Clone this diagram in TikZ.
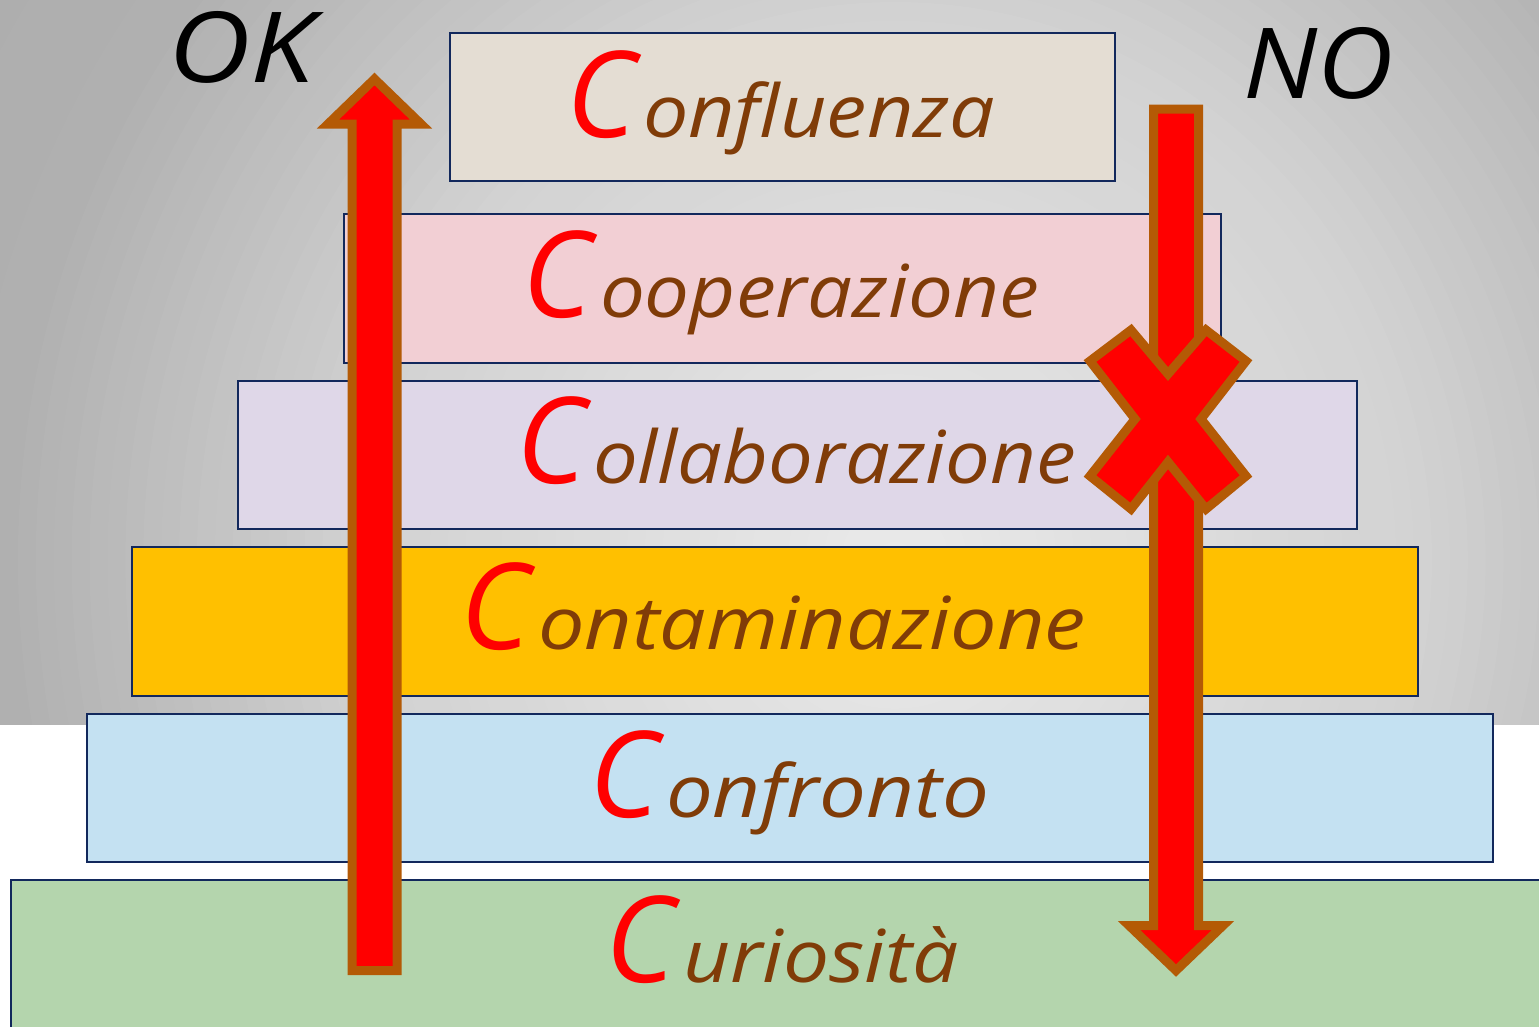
\documentclass[tikz,border=0pt]{standalone}
\usepackage{fontspec}
\usepackage{graphicx}
\newfontfamily\hand{Open Sans}
\definecolor{cred}{RGB}{255,0,0}
\definecolor{cbrown}{RGB}{128,60,8}
\definecolor{aedge}{RGB}{180,90,5}
\definecolor{bline}{RGB}{18,40,92}
\definecolor{f1}{RGB}{228,221,211}
\definecolor{f2}{RGB}{242,207,212}
\definecolor{f3}{RGB}{223,215,232}
\definecolor{f4}{RGB}{255,192,0}
\definecolor{f5}{RGB}{196,225,242}
\definecolor{f6}{RGB}{180,213,173}
\tikzset{
  layer/.style={draw=bline, line width=2pt, inner sep=0pt, outer sep=0pt},
  capc/.style={inner sep=0pt, outer sep=0pt, anchor=base west, text=cred, font=\hand\itshape\fontsize{120}{120}\selectfont},
  rest/.style={inner sep=0pt, outer sep=0pt, anchor=base west, text=cbrown, font=\hand\itshape\fontsize{73}{73}\selectfont},
  verdict/.style={inner sep=0pt, outer sep=0pt, anchor=base west, text=black, font=\hand\itshape\fontsize{98}{98}\selectfont},
  blockarrow/.style={fill=cred, draw=aedge, line width=9pt, line join=miter, miter limit=10}
}
\begin{document}
\begin{tikzpicture}[x=1pt,y=-1pt]
\useasboundingbox (0,0) rectangle (1539,1026);
\fill[white] (0,0) rectangle (1539,1026);
\begin{scope}
\clip (0,0) rectangle (1539,724);
\foreach \i in {75,...,1}{
  \pgfmathsetmacro\s{\i/50}
  \pgfmathsetmacro\g{\s<0.6 ? 234-40*\s : (\s<1 ? 210-85*(\s-0.6) : 176-10*(\s-1))}
  \pgfmathsetmacro\gg{\g/255}
  \definecolor{tmpg}{gray}{\gg}
  \fill[tmpg] (895,560) ellipse [x radius=895*\s, y radius=930*\s];
}
\end{scope}
% layers
\node[layer, fill=f1, minimum width=665pt, minimum height=148pt] (b1) at (782.5,107) {};
\node[layer, fill=f2, minimum width=877pt, minimum height=149pt] (b2) at (782.5,288.5) {};
\node[layer, fill=f3, minimum width=1119pt, minimum height=148pt] (b3) at (797.5,455) {};
\node[layer, fill=f4, minimum width=1286pt, minimum height=149pt] (b4) at (775,621.5) {};
\node[layer, fill=f5, minimum width=1406pt, minimum height=148pt] (b5) at (790,788) {};
\node[layer, fill=f6, minimum width=1549pt, minimum height=160pt] (b6) at (785.5,960) {};
% texts
\node[capc] (c1) at (566,137) {\resizebox{70pt}{\height}{C}};
\node[rest] (r1) at (643,137) {\resizebox{352pt}{\height}{onfluenza}};
\node[capc] (c2) at (522,317) {\resizebox{70pt}{\height}{C}};
\node[rest] (r2) at (600,317) {\resizebox{439pt}{\height}{ooperazione}};
\node[capc] (c3) at (516,483) {\resizebox{70pt}{\height}{C}};
\node[rest] (r3) at (593,483) {\resizebox{483pt}{\height}{ollaborazione}};
\node[capc] (c4) at (460,649) {\resizebox{70pt}{\height}{C}};
\node[rest] (r4) at (538,649) {\resizebox{548pt}{\height}{ontaminazione}};
\node[capc] (c5) at (589,817) {\resizebox{70pt}{\height}{C}};
\node[rest] (r5) at (666,817) {\resizebox{323pt}{\height}{onfronto}};
\node[capc] (c6) at (605,982) {\resizebox{70pt}{\height}{C}};
\node[rest] (r6) at (683,982) {\resizebox{276pt}{\height}{uriosità}};
% verdict labels
\node[verdict] (ok) at (168,82) {\resizebox{146pt}{\height}{OK}};
\node[verdict] (no) at (1243,98) {\resizebox{150pt}{\height}{NO}};
% up arrow
\draw[blockarrow] (352,970.5) -- (352,124) -- (328,124) -- (374.5,79) -- (421,124) -- (397,124) -- (397,970.5) -- cycle;
% down arrow
\draw[blockarrow] (1153.5,109) -- (1198.5,109) -- (1198.5,925.5) -- (1223,925.5) -- (1176,970.5) -- (1129,925.5) -- (1153.5,925.5) -- cycle;
% cross
\draw[blockarrow] (1168,374) -- (1206,330) -- (1246,361) -- (1201,419) -- (1246,476) -- (1206,509) -- (1168,462) -- (1131,509) -- (1090,476) -- (1135,419) -- (1090,361) -- (1131,330) -- cycle;
\end{tikzpicture}
\end{document}
